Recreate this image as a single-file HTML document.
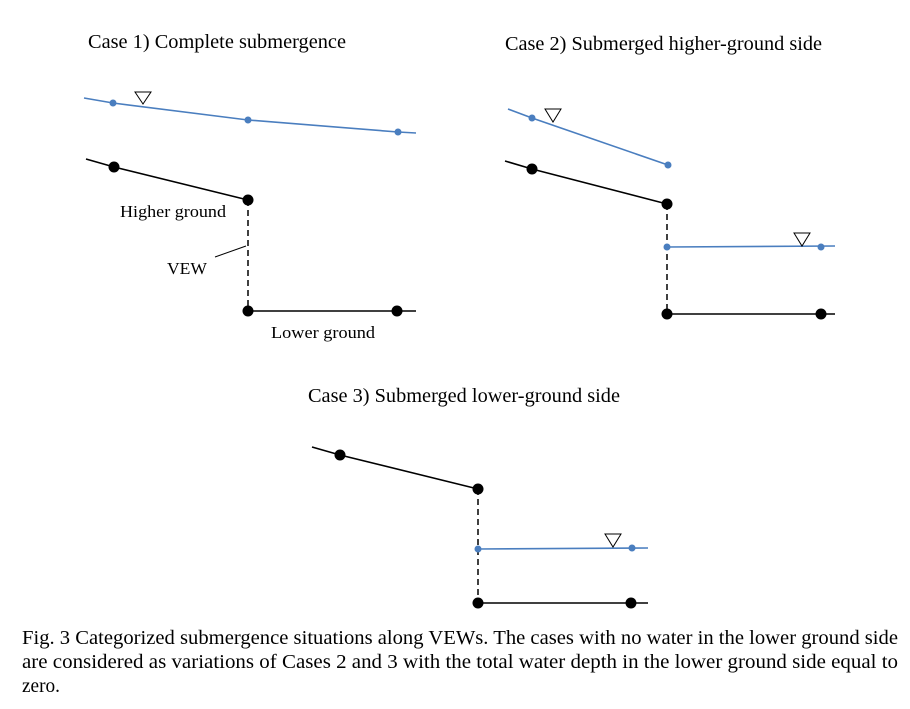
<!DOCTYPE html>
<html><head><meta charset="utf-8"><style>
html,body{margin:0;padding:0;background:#fff;}
svg{display:block;}
text{font-family:"Liberation Serif",serif;fill:#000;}
</style></head><body>
<svg width="910" height="709" viewBox="0 0 910 709" xmlns="http://www.w3.org/2000/svg">
<!-- Titles -->
<text x="88" y="48" font-size="19.5" textLength="258" lengthAdjust="spacingAndGlyphs">Case 1) Complete submergence</text>
<text x="505" y="50" font-size="19.5" textLength="317" lengthAdjust="spacingAndGlyphs">Case 2) Submerged higher-ground side</text>
<text x="308" y="402" font-size="19.5" textLength="312" lengthAdjust="spacingAndGlyphs">Case 3) Submerged lower-ground side</text>

<!-- Case 1 -->
<polyline points="84,98 113,103 248,120 398,132 416,133" fill="none" stroke="#4a7ebf" stroke-width="1.6"/>
<circle cx="113" cy="103" r="3.5" fill="#4a7ebf"/><circle cx="248" cy="120" r="3.5" fill="#4a7ebf"/><circle cx="398" cy="132" r="3.5" fill="#4a7ebf"/>
<polygon points="135,92 151,92 143,104" fill="#fff" stroke="#000" stroke-width="1"/>
<polyline points="86,159 114,167 248,200" fill="none" stroke="#000" stroke-width="1.6"/>
<line x1="248" y1="200" x2="248" y2="311" stroke="#000" stroke-width="1.5" stroke-dasharray="6,4"/>
<line x1="248" y1="311" x2="416" y2="311" stroke="#000" stroke-width="1.6"/>
<circle cx="114" cy="167" r="5.5"/><circle cx="248" cy="200" r="5.5"/><circle cx="248" cy="311" r="5.5"/><circle cx="397" cy="311" r="5.5"/>
<line x1="215" y1="257" x2="246" y2="246" stroke="#000" stroke-width="1"/>
<text x="120" y="217" font-size="17" textLength="106" lengthAdjust="spacingAndGlyphs">Higher ground</text>
<text x="167" y="274" font-size="17" textLength="40" lengthAdjust="spacingAndGlyphs">VEW</text>
<text x="271" y="338" font-size="17" textLength="104" lengthAdjust="spacingAndGlyphs">Lower ground</text>

<!-- Case 2 -->
<polyline points="508,109 532,118 668,165" fill="none" stroke="#4a7ebf" stroke-width="1.6"/>
<circle cx="532" cy="118" r="3.5" fill="#4a7ebf"/><circle cx="668" cy="165" r="3.5" fill="#4a7ebf"/>
<polygon points="545,109 561,109 553,122" fill="#fff" stroke="#000" stroke-width="1"/>
<polyline points="505,161 532,169 667,204" fill="none" stroke="#000" stroke-width="1.6"/>
<line x1="667" y1="204" x2="667" y2="314" stroke="#000" stroke-width="1.5" stroke-dasharray="6,4"/>
<line x1="667" y1="247" x2="835" y2="246" stroke="#4a7ebf" stroke-width="1.6"/>
<circle cx="667" cy="247" r="3.5" fill="#4a7ebf"/><circle cx="821" cy="247" r="3.5" fill="#4a7ebf"/>
<polygon points="794,233 810,233 802,246" fill="#fff" stroke="#000" stroke-width="1"/>
<line x1="667" y1="314" x2="835" y2="314" stroke="#000" stroke-width="1.6"/>
<circle cx="532" cy="169" r="5.5"/><circle cx="667" cy="204" r="5.5"/><circle cx="667" cy="314" r="5.5"/><circle cx="821" cy="314" r="5.5"/>

<!-- Case 3 -->
<polyline points="312,447 340,455 478,489" fill="none" stroke="#000" stroke-width="1.6"/>
<line x1="478" y1="489" x2="478" y2="603" stroke="#000" stroke-width="1.5" stroke-dasharray="6,4"/>
<line x1="478" y1="549" x2="648" y2="548" stroke="#4a7ebf" stroke-width="1.6"/>
<circle cx="478" cy="549" r="3.5" fill="#4a7ebf"/><circle cx="632" cy="548" r="3.5" fill="#4a7ebf"/>
<polygon points="605,534 621,534 613,547" fill="#fff" stroke="#000" stroke-width="1"/>
<line x1="478" y1="603" x2="648" y2="603" stroke="#000" stroke-width="1.6"/>
<circle cx="340" cy="455" r="5.5"/><circle cx="478" cy="489" r="5.5"/><circle cx="478" cy="603" r="5.5"/><circle cx="631" cy="603" r="5.5"/>

<!-- Caption -->
<text x="22" y="644" font-size="19.5" textLength="876" lengthAdjust="spacingAndGlyphs">Fig. 3  Categorized submergence situations along VEWs. The cases with no water in the lower ground side</text>
<text x="22" y="668" font-size="19.5" textLength="876" lengthAdjust="spacingAndGlyphs">are considered as variations of Cases 2 and 3 with the total water depth in the lower ground side equal to</text>
<text x="22" y="692" font-size="19.5" textLength="38" lengthAdjust="spacingAndGlyphs">zero.</text>
</svg>
</body></html>
